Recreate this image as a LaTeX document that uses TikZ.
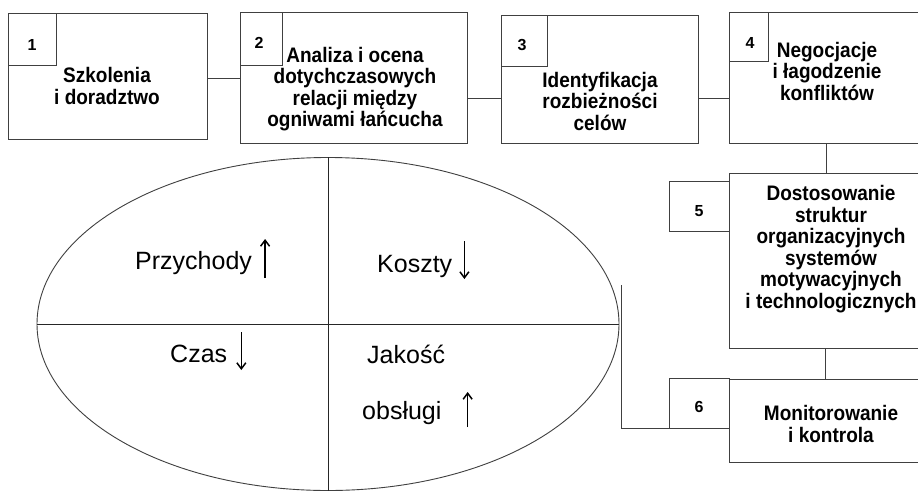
\documentclass[tikz,border=0pt]{standalone}
\usepackage{fontspec}
\setmainfont{Liberation Sans}
\newfontfamily\boxfont{Liberation Sans}[FakeStretch=0.905]
\usetikzlibrary{shapes.geometric,arrows.meta,calc}
\tikzset{
  frame/.style={draw=black!75, line width=0.9pt, rectangle, inner sep=0pt},
  boxtext/.style={font=\boxfont\bfseries\fontsize{21}{21.5}\selectfont, align=center, inner sep=0pt},
  numtext/.style={font=\bfseries\fontsize{16}{17}\selectfont, inner sep=0pt},
  eltext/.style={font=\fontsize{25}{28}\selectfont, inner sep=0pt, anchor=base west},
  trend/.style={line width=1.5pt, -{Straight Barb[length=6pt,width=9pt]}},
  link/.style={draw=black!75, line width=0.9pt}
}
\begin{document}
\begin{tikzpicture}[x=1pt,y=-1pt]
\useasboundingbox (0,0) rectangle (918,490);
\fill[white] (0,0) rectangle (918,490);
\clip (0,0) rectangle (918,490);

% top row boxes
\node[frame, minimum width=199pt, minimum height=126pt] (b1) at (107.5,76) {};
\node[frame, minimum width=48pt, minimum height=52pt] (s1) at (32,39) {};
\node[numtext] (n1) at (32,45) {1};
\node[boxtext] (t1) at (107,86) {Szkolenia\\i doradztwo};

\node[frame, minimum width=227pt, minimum height=131pt] (b2) at (353.5,77.5) {};
\node[frame, minimum width=42pt, minimum height=53pt] (s2) at (261,38.5) {};
\node[numtext] (n2) at (259,43) {2};
\node[boxtext] (t2) at (355,89) {Analiza i ocena\\dotychczasowych\\relacji między\\ogniwami łańcucha};

\node[frame, minimum width=197pt, minimum height=128pt] (b3) at (599.5,79) {};
\node[frame, minimum width=46pt, minimum height=51pt] (s3) at (524,40.5) {};
\node[numtext] (n3) at (522,45) {3};
\node[boxtext] (t3) at (600,101) {Identyfikacja\\rozbieżności\\celów};

\node[frame, minimum width=206pt, minimum height=131pt] (b4) at (832,77.5) {};
\node[frame, minimum width=39pt, minimum height=49pt] (s4) at (748.5,36.5) {};
\node[numtext] (n4) at (750,43) {4};
\node[boxtext] (t4) at (827,71) {Negocjacje\\i łagodzenie\\konfliktów};

% right column
\node[frame, minimum width=206pt, minimum height=175pt] (b5) at (832,260.5) {};
\node[frame, minimum width=60pt, minimum height=50pt] (s5) at (699,206) {};
\node[numtext] (n5) at (699,211) {5};
\node[boxtext] (t5) at (831,249) {Dostosowanie\\struktur\\organizacyjnych\\systemów\\motywacyjnych\\i technologicznych};

\node[frame, minimum width=206pt, minimum height=83pt] (b6) at (832,420.5) {};
\node[frame, minimum width=60pt, minimum height=50pt] (s6) at (699,403) {};
\node[numtext] (n6) at (699,407) {6};
\node[boxtext] (t6) at (831,424) {Monitorowanie\\i kontrola};

% connectors
\coordinate (r12) at (0,78);
\coordinate (r23) at (0,98);
\coordinate (c45) at (826,0);
\coordinate (c56) at (825,0);
\draw[link] (b1.east |- r12) -- (b2.west |- r12);
\draw[link] (b2.east |- r23) -- (b3.west |- r23);
\draw[link] (b3.east |- r23) -- (b4.west |- r23);
\draw[link] (b4.south -| c45) -- (b5.north -| c45);
\draw[link] (b5.south -| c56) -- (b6.north -| c56);

% ellipse
\node[draw=black!75, line width=0.9pt, ellipse, inner sep=0pt, minimum width=582pt, minimum height=333pt] (el) at (328,324) {};
\draw[black!85, line width=0.9pt] (el.north) -- (el.south);
\draw[black!85, line width=0.9pt] (el.west) -- (el.east);

\coordinate (e6) at (621,285);
\draw[link] (e6) |- (s6.south west);

% ellipse labels
\node[eltext] (przy) at (135,269) {Przychody};
\draw[trend] ($(przy.base east)+(13,9)$) -- ($(przy.base east)+(13,-30)$);
\node[eltext] (kosz) at (377,272) {Koszty};
\draw[trend] ($(kosz.base east)+(12,-31)$) -- ($(kosz.base east)+(12,7)$);
\node[eltext] (czas) at (170,362) {Czas};
\draw[trend] ($(czas.base east)+(14,-30)$) -- ($(czas.base east)+(14,8)$);
\node[eltext] (jak) at (367,363) {Jakość};
\node[eltext] (obs) at (362,419) {obsługi};
\draw[trend] ($(obs.base east)+(26,8)$) -- ($(obs.base east)+(26,-27)$);
\end{tikzpicture}
\end{document}
